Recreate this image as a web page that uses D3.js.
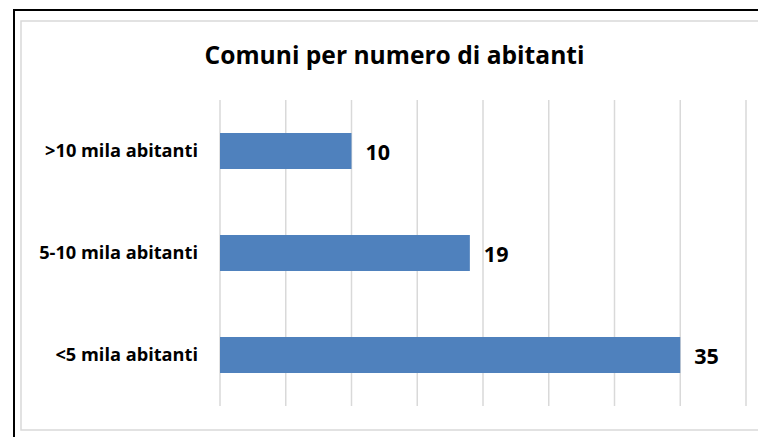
<!DOCTYPE html>
<html>
<head>
<meta charset="utf-8">
<script src="https://cdn.jsdelivr.net/npm/d3@7"></script>
<style>
  body { margin: 0; background: #fff; }
  text { font-family: "Open Sans", "Lato", sans-serif; font-weight: bold; fill: #000; }
</style>
</head>
<body>
<div id="chart"></div>
<script>
const categories = [">10 mila abitanti", "5-10 mila abitanti", "<5 mila abitanti"];
const values = [10, 19, 35];
const tickValues = [0, 5, 10, 15, 20, 25, 30, 35, 40];
const title = "Comuni per numero di abitanti";

const width = 758, height = 437;

const svg = d3.select("#chart")
  .append("svg")
    .attr("width", width)
    .attr("height", height);

// outer black frame (runs off right/bottom edge)
svg.append("rect")
  .attr("x", 14)
  .attr("y", 10)
  .attr("width", 800)
  .attr("height", 500)
  .attr("fill", "none")
  .attr("stroke", "#000")
  .attr("stroke-width", 2);

// inner chart area border
svg.append("rect")
  .attr("x", 21)
  .attr("y", 21)
  .attr("width", 800)
  .attr("height", 409)
  .attr("fill", "none")
  .attr("stroke", "#d9d9d9")
  .attr("stroke-width", 1.5);

const xScale = d3.scaleLinear()
  .domain([0, 40])
  .range([220, 746]);

const yScale = d3.scaleBand()
  .domain(categories)
  .range([100, 406])
  .paddingInner(0.647)
  .paddingOuter(0.3235);

// gridlines
svg.append("g")
  .selectAll("line")
  .data(tickValues)
  .join("line")
    .attr("x1", d => xScale(d))
    .attr("x2", d => xScale(d))
    .attr("y1", 100)
    .attr("y2", 406)
    .attr("stroke", "#d9d9d9")
    .attr("stroke-width", 1.5);

const data = categories.map((c, i) => ({ cat: c, value: values[i] }));

svg.append("g")
  .selectAll("rect")
  .data(data)
  .join("rect")
    .attr("x", xScale(0))
    .attr("y", d => yScale(d.cat))
    .attr("width", d => xScale(d.value) - xScale(0))
    .attr("height", yScale.bandwidth())
    .attr("fill", "#4f81bd");

// category labels
svg.append("g")
  .selectAll("text")
  .data(data)
  .join("text")
    .text(d => d.cat)
    .attr("x", 198)
    .attr("y", d => yScale(d.cat) + yScale.bandwidth() / 2 + 6)
    .attr("text-anchor", "end")
    .style("font-size", "18.2px");

// value labels
svg.append("g")
  .selectAll("text")
  .data(data)
  .join("text")
    .text(d => d.value)
    .attr("x", d => xScale(d.value) + 14)
    .attr("y", d => yScale(d.cat) + yScale.bandwidth() / 2 + 9)
    .style("font-size", "21.5px");

svg.append("text")
  .text(title)
  .attr("x", 394.5)
  .attr("y", 64)
  .attr("text-anchor", "middle")
  .style("font-size", "24.6px");
</script>
</body>
</html>
